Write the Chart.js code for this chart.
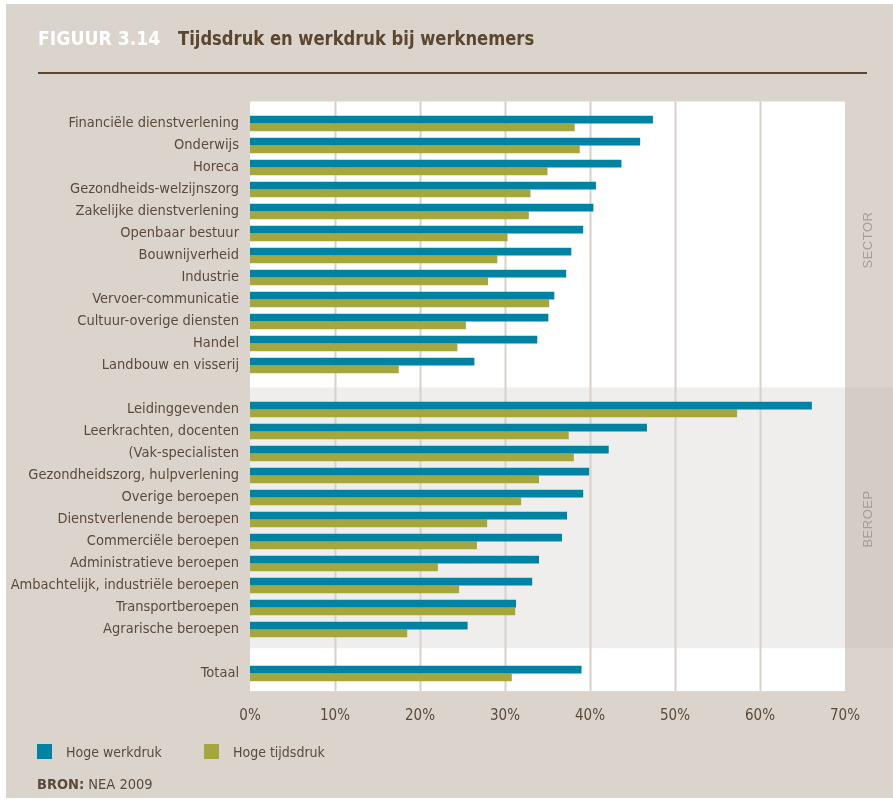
<!DOCTYPE html>
<html><head><meta charset="utf-8">
<script src="https://cdn.jsdelivr.net/npm/chart.js@4/dist/chart.umd.min.js"></script>
<style>
html,body{margin:0;padding:0;background:#fff;}
#wrap{position:relative;width:893px;height:803px;overflow:hidden;}
#bg{position:absolute;left:6px;top:4px;width:887px;height:794px;background:#dbd4cd;}
canvas{position:absolute;left:0;top:0;}
.nar{font-family:'Liberation Sans Narrow','DejaVu Sans Condensed',sans-serif;}
#title{position:absolute;left:38px;top:26px;font-size:20px;font-weight:bold;white-space:nowrap;line-height:24px;}
#title .fig{color:#ffffff;position:absolute;left:0;top:0;transform:scaleX(0.96);transform-origin:left center;}
#title .txt{color:#5c4630;position:absolute;left:140px;top:0;transform:scaleX(0.91);transform-origin:left center;}
#rule{position:absolute;left:38px;top:72px;width:829px;height:2px;background:#5c4630;}
#legend{position:absolute;left:37px;top:744px;height:16px;}
.li{position:absolute;top:0;white-space:nowrap;font-size:14px;color:#5b4a3a;line-height:16px;}
.li span.sw{position:absolute;left:0;top:0;width:15px;height:15px;}
.li span.tx{position:absolute;left:29px;top:0;}
#src{position:absolute;left:37px;top:775px;font-size:14.5px;color:#5b4a3a;white-space:nowrap;line-height:18px;}
.side{position:absolute;font-family:'Liberation Sans',sans-serif;font-size:13px;color:#a69d94;letter-spacing:0.5px;transform:translate(-50%,-50%) rotate(-90deg);white-space:nowrap;}
</style></head>
<body>
<div id="wrap">
<div id="bg"></div>
<canvas id="c" width="893" height="803"></canvas>
<div id="title" class="nar"><span class="fig">FIGUUR 3.14</span><span class="txt">Tijdsdruk en werkdruk bij werknemers</span></div>
<div id="rule"></div>
<div class="side" style="left:867px;top:240px;">SECTOR</div>
<div class="side" style="left:867px;top:519px;">BEROEP</div>
<div id="legend" class="nar"></div>
<div id="src" class="nar"><b>BRON:</b> NEA 2009</div>
</div>
<script>
const FONT = "'Liberation Sans Narrow','DejaVu Sans Condensed',sans-serif";

const sectorLabels = ['Financiële dienstverlening','Onderwijs','Horeca','Gezondheids-welzijnszorg','Zakelijke dienstverlening','Openbaar bestuur','Bouwnijverheid','Industrie','Vervoer-communicatie','Cultuur-overige diensten','Handel','Landbouw en visserij'];
const sectorWerkdruk = [47.4,45.9,43.7,40.7,40.4,39.2,37.8,37.2,35.8,35.1,33.8,26.4];
const sectorTijdsdruk = [38.2,38.8,35.0,33.0,32.8,30.3,29.1,28.0,35.2,25.4,24.4,17.5];

const beroepLabels = ['Leidinggevenden','Leerkrachten, docenten','(Vak-specialisten','Gezondheidszorg, hulpverlening','Overige beroepen','Dienstverlenende beroepen','Commerciële beroepen','Administratieve beroepen','Ambachtelijk, industriële beroepen','Transportberoepen','Agrarische beroepen'];
const beroepWerkdruk = [66.1,46.7,42.2,39.9,39.2,37.3,36.7,34.0,33.2,31.3,25.6];
const beroepTijdsdruk = [57.3,37.5,38.1,34.0,31.9,27.9,26.7,22.1,24.6,31.2,18.5];

const totaalLabel = ['Totaal'];
const totaalWerkdruk = [39.0];
const totaalTijdsdruk = [30.8];

const xTicks = [0,10,20,30,40,50,60,70];
const seriesNames = ['Hoge werkdruk','Hoge tijdsdruk'];

const labels = [...sectorLabels, '', ...beroepLabels, '', ...totaalLabel];
const werk = [...sectorWerkdruk, null, ...beroepWerkdruk, null, ...totaalWerkdruk];
const tijd = [...sectorTijdsdruk, null, ...beroepTijdsdruk, null, ...totaalTijdsdruk];
const beroepStart = sectorLabels.length + 1;
const beroepEnd = beroepStart + beroepLabels.length - 1;

const bgPlugin = {
  id: 'bgPlugin',
  beforeDraw(chart) {
    const {ctx, chartArea, scales} = chart;
    const y = scales.y;
    const pitch = y.getPixelForValue(1) - y.getPixelForValue(0);
    const top = y.getPixelForValue(0) - pitch;
    const bottom = y.getPixelForValue(labels.length - 1) + pitch * 0.8;
    ctx.save();
    ctx.fillStyle = '#ffffff';
    ctx.fillRect(chartArea.left, top, chartArea.right - chartArea.left, bottom - top);
    const bTop = y.getPixelForValue(beroepStart) - pitch;
    const bBot = y.getPixelForValue(beroepEnd) + pitch * 0.85;
    ctx.fillStyle = '#f0eeec';
    ctx.fillRect(chartArea.left, bTop, chartArea.right - chartArea.left, bBot - bTop);
    ctx.fillStyle = '#d4ccc6';
    ctx.fillRect(chartArea.right, bTop, chart.width - chartArea.right, bBot - bTop);
    ctx.restore();
  },
  beforeDatasetsDraw(chart) {
    const {ctx, scales} = chart;
    const x = scales.x, y = scales.y;
    const pitch = y.getPixelForValue(1) - y.getPixelForValue(0);
    const top = y.getPixelForValue(0) - pitch;
    const bottom = y.getPixelForValue(labels.length - 1) + pitch * 0.8;
    ctx.save();
    ctx.strokeStyle = '#d8d0c9';
    ctx.lineWidth = 2;
    xTicks.slice(1, -1).forEach(v => {
      const px = Math.round(x.getPixelForValue(v)) + 0.5;
      ctx.beginPath(); ctx.moveTo(px, top); ctx.lineTo(px, bottom); ctx.stroke();
    });
    ctx.restore();
  }
};

const chart = new Chart(document.getElementById('c'), {
  type: 'bar',
  data: {
    labels,
    datasets: [
      {label: seriesNames[0], data: werk, backgroundColor: '#0083a3', borderWidth: 0, categoryPercentage: 0.7, barPercentage: 1.0},
      {label: seriesNames[1], data: tijd, backgroundColor: '#a5a63e', borderWidth: 0, categoryPercentage: 0.7, barPercentage: 1.0}
    ]
  },
  options: {
    indexAxis: 'y',
    responsive: false,
    animation: false,
    layout: {padding: {left: 0, right: 48, top: 112.5, bottom: 78.5}},
    plugins: {legend: {display: false}, tooltip: {enabled: false}},
    scales: {
      x: {
        min: 0, max: 70,
        afterBuildTicks(s) { s.ticks = xTicks.map(v => ({value: v})); },
        afterFit(s) { s.height = 40; },
        ticks: {callback: v => v + '%', color: '#5b4a3a', font: {family: FONT, size: 15}, padding: 23, maxRotation: 0},
        grid: {display: false, drawTicks: false},
        border: {display: false}
      },
      y: {
        afterFit(s) { s.width = 250; },
        ticks: {color: '#5b4a3a', font: {family: FONT, size: 14.5}, padding: 11, autoSkip: false},
        grid: {display: false, drawTicks: false},
        border: {display: false}
      }
    }
  },
  plugins: [bgPlugin]
});

const leg = document.getElementById('legend');
const legX = [0, 167];
chart.data.datasets.forEach((ds, i) => {
  const d = document.createElement('div');
  d.className = 'li';
  d.style.left = legX[i] + 'px';
  d.innerHTML = '<span class="sw" style="background:' + ds.backgroundColor + '"></span><span class="tx">' + ds.label + '</span>';
  leg.appendChild(d);
});
</script>
</body></html>
